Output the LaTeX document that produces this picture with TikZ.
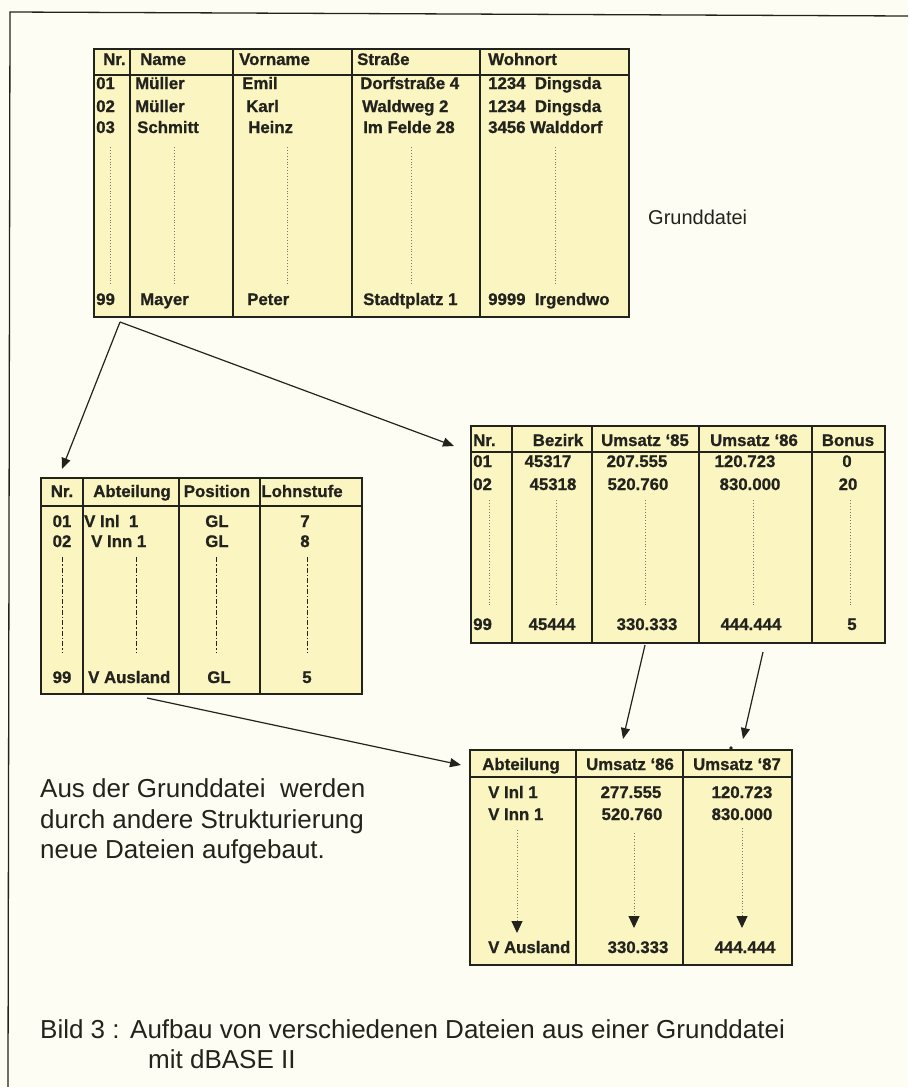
\documentclass[tikz,border=0pt]{standalone}
\usepackage{fontspec}
\setmainfont{Liberation Sans}
\newfontfamily\heavyfam[BoldFeatures={FakeBold=0.9}]{Liberation Sans}
\usetikzlibrary{arrows.meta}
\definecolor{paper}{RGB}{253,253,243}
\definecolor{tblfill}{RGB}{251,245,194}
\definecolor{ink}{RGB}{35,35,30}
\definecolor{dotgray}{RGB}{120,120,110}
\newcommand{\tabfont}{\heavyfam\fontsize{16.8}{20}\selectfont\bfseries}
\newcommand{\txtfont}{\fontsize{26}{30}\selectfont}
\tikzset{
  tbl/.style={draw=ink, line width=1.6pt, fill=tblfill, inner sep=0pt, anchor=north west},
  sepline/.style={draw=ink, line width=1.4pt},
  cw/.style={font=\tabfont, text=ink, anchor=base west, inner sep=0pt},
  cc/.style={font=\tabfont, text=ink, anchor=base, inner sep=0pt},
  dotl/.style={draw=dotgray, line width=0.9pt, dotted},
  dashdotl/.style={draw=ink, line width=0.9pt, dash pattern=on 5pt off 2pt on 1.5pt off 2pt},
  conn/.style={draw=ink, line width=1.2pt, -{Triangle[length=11pt,width=9pt]}},
  dotarrow/.style={draw=dotgray, line width=0.9pt, dotted, -{Triangle[length=12pt,width=11pt,color=ink,fill=ink]}},
  plain/.style={font=\txtfont, text=ink, anchor=base west, inner sep=0pt},
}
\begin{document}
\begin{tikzpicture}[x=1pt,y=-1pt]
\useasboundingbox (0,0) rectangle (908,1087);
\fill[paper] (0,0) rectangle (908,1087);
% frame
\coordinate (fTL) at (10,12);
\coordinate (fTR) at (908,16);
\coordinate (fBL) at (8,1087);
\draw[ink, line width=1.3pt] (fTR) -- (fTL) -- (fBL);

% ---------- Table 1: Grunddatei ----------
\node[tbl, minimum width=535pt, minimum height=268pt] (T1) at (93,48) {};
\draw[sepline] (93,75) -- (628,75);
\foreach \x in {130,233,352,480} \draw[sepline] (\x,48) -- (\x,316);
\node[cw] (h11) at (103,65) {Nr.};
\node[cw] (h12) at (140,65) {Name};
\node[cw] (h13) at (239,65) {Vorname};
\node[cw] (h14) at (357,65) {Straße};
\node[cw] (h15) at (488,65) {Wohnort};
\node[cw] (a11) at (96,89) {01};
\node[cw] (a12) at (135,89) {Müller};
\node[cw] (a13) at (242,89) {Emil};
\node[cw] (a14) at (360,89) {Dorfstraße 4};
\node[cw] (a15) at (488,89) {1234\ \ Dingsda};
\node[cw] (a21) at (96,112) {02};
\node[cw] (a22) at (135,112) {Müller};
\node[cw] (a23) at (246,112) {Karl};
\node[cw] (a24) at (362,112) {Waldweg 2};
\node[cw] (a25) at (488,112) {1234\ \ Dingsda};
\node[cw] (a31) at (96,133) {03};
\node[cw] (a32) at (137,133) {Schmitt};
\node[cw] (a33) at (248,133) {Heinz};
\node[cw] (a34) at (363,133) {Im Felde 28};
\node[cw] (a35) at (488,133) {3456 Walddorf};
\node[cw] (a91) at (96,305) {99};
\node[cw] (a92) at (140,305) {Mayer};
\node[cw] (a93) at (247,305) {Peter};
\node[cw] (a94) at (363,305) {Stadtplatz 1};
\node[cw] (a95) at (488,305) {9999\ \ Irgendwo};
\foreach \x in {110,174,287,411,555} \draw[dotl] (\x,147) -- (\x,285);
\node[font=\fontsize{20}{24}\selectfont, text=ink, anchor=base west, inner sep=0pt] (lbl) at (648,224) {Grunddatei};

% ---------- Table 2 ----------
\node[tbl, minimum width=321pt, minimum height=216pt] (T2) at (40,477) {};
\draw[sepline] (40,506) -- (361,506);
\foreach \x in {83,179,260} \draw[sepline] (\x,477) -- (\x,693);
\node[cc] (h21) at (62,497) {Nr.};
\node[cc] (h22) at (132,497) {Abteilung};
\node[cc] (h23) at (217,497) {Position};
\node[cc] (h24) at (302,497) {Lohnstufe};
\node[cc] (b11) at (62,527) {01};
\node[cw] (b12) at (84,527) {V Inl\ \ 1};
\node[cc] (b13) at (217,527) {GL};
\node[cc] (b14) at (305,527) {7};
\node[cc] (b21) at (62,547) {02};
\node[cw] (b22) at (91,547) {V Inn 1};
\node[cc] (b23) at (217,547) {GL};
\node[cc] (b24) at (305,547) {8};
\node[cc] (b91) at (62,683) {99};
\node[cw] (b92) at (88,683) {V Ausland};
\node[cc] (b93) at (219,683) {GL};
\node[cc] (b94) at (307,683) {5};
\foreach \x in {62,136,216,307} \draw[dashdotl] (\x,557) -- (\x,653);

% ---------- Table 3 ----------
\node[tbl, minimum width=414pt, minimum height=217pt] (T3) at (470,425) {};
\draw[sepline] (470,452) -- (884,452);
\foreach \x in {512,592,699,812} \draw[sepline] (\x,425) -- (\x,642);
\node[cw] (h31) at (473,446) {Nr.};
\node[cc] (h32) at (558,446) {Bezirk};
\node[cc] (h33) at (645,446) {Umsatz ‘85};
\node[cc] (h34) at (754,446) {Umsatz ‘86};
\node[cc] (h35) at (848,446) {Bonus};
\node[cw] (c11) at (473,467) {01};
\node[cc] (c12) at (548,467) {45317};
\node[cc] (c13) at (637,467) {207.555};
\node[cc] (c14) at (745,467) {120.723};
\node[cc] (c15) at (847,467) {0};
\node[cw] (c21) at (473,490) {02};
\node[cc] (c22) at (553,490) {45318};
\node[cc] (c23) at (638,490) {520.760};
\node[cc] (c24) at (750,490) {830.000};
\node[cc] (c25) at (848,490) {20};
\node[cw] (c91) at (473,630) {99};
\node[cc] (c92) at (552,630) {45444};
\node[cc] (c93) at (647,630) {330.333};
\node[cc] (c94) at (751,630) {444.444};
\node[cc] (c95) at (852,630) {5};
\foreach \x in {489,556,645,753,850} \draw[dotl] (\x,500) -- (\x,605);

% ---------- Table 4 ----------
\node[tbl, minimum width=322pt, minimum height=215pt] (T4) at (469,749) {};
\draw[sepline] (469,777) -- (791,777);
\foreach \x in {576,683} \draw[sepline] (\x,749) -- (\x,964);
\node[cc] (h41) at (521,770) {Abteilung};
\node[cc] (h42) at (630,770) {Umsatz ‘86};
\node[cc] (h43) at (737,770) {Umsatz ‘87};
\node[cw] (d11) at (488,798) {V Inl 1};
\node[cc] (d12) at (631,798) {277.555};
\node[cc] (d13) at (742,798) {120.723};
\node[cw] (d21) at (488,820) {V Inn 1};
\node[cc] (d22) at (632,820) {520.760};
\node[cc] (d23) at (742,820) {830.000};
\node[cw] (d91) at (488,953) {V Ausland};
\node[cc] (d92) at (638,953) {330.333};
\node[cc] (d93) at (745,953) {444.444};
\coordinate (p1s) at (517,830); \coordinate (p1e) at (517,933);
\coordinate (p2s) at (634,833); \coordinate (p2e) at (634,928);
\coordinate (p3s) at (742,828); \coordinate (p3e) at (742,928);
\draw[dotarrow] (p1s) -- (p1e);
\draw[dotarrow] (p2s) -- (p2e);
\draw[dotarrow] (p3s) -- (p3e);
\fill[ink] (731,748) circle (1.8pt);

% ---------- connectors ----------
\coordinate (hub) at (120,322);
\coordinate (tipL) at (62,469);
\coordinate (tipR) at (454,446);
\draw[conn] (hub) -- (tipL);
\draw[conn] (hub) -- (tipR);
\coordinate (s2) at (147,698);
\coordinate (tip4) at (461,765);
\draw[conn] (s2) -- (tip4);
\coordinate (s3a) at (645,645);
\coordinate (t4a) at (623,739);
\coordinate (s3b) at (763,652);
\coordinate (t4b) at (743,739);
\draw[conn] (s3a) -- (t4a);
\draw[conn] (s3b) -- (t4b);

% ---------- texts ----------
\node[plain] (desc1) at (40,797) {Aus der Grunddatei\ \ werden};
\node[plain] (desc2) at (40,828) {durch andere Strukturierung};
\node[plain] (desc3) at (40,858) {neue Dateien aufgebaut.};
\node[plain] (cap1) at (40,1038) {Bild 3 :};
\node[plain] (cap2) at (130,1038) {Aufbau von verschiedenen Dateien aus einer Grunddatei};
\node[plain] (cap3) at (148,1068) {mit dBASE II};
\end{tikzpicture}
\end{document}
